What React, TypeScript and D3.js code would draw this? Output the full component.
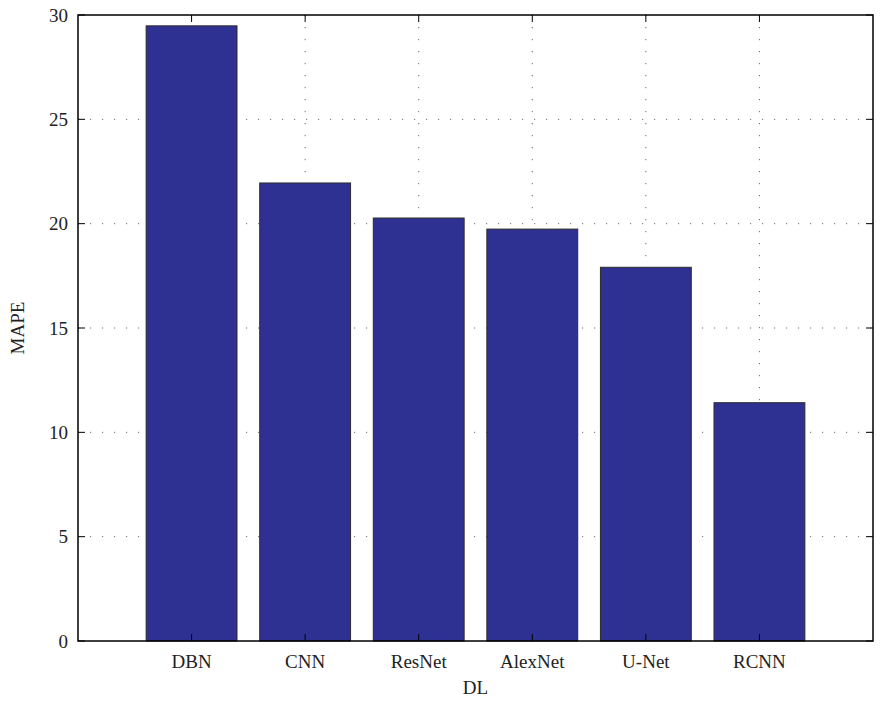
import React from "react";
import * as d3 from "d3";

// MAPE per deep-learning model
const models = ["DBN", "CNN", "ResNet", "AlexNet", "U-Net", "RCNN"];
const mape = [29.48, 21.95, 20.27, 19.74, 17.91, 11.42];
const yTicks = [0, 5, 10, 15, 20, 25, 30];

const W = 880;
const H = 703;
const M = { left: 78, right: 7, top: 15, bottom: 62 };
const FONT = "'Liberation Serif', 'Times New Roman', serif";
const FS = 19;

export default function App() {
  const plotR = W - M.right;
  const plotB = H - M.bottom;

  // categories sit at 1..n on a linear axis running from 0 to n+1
  const x = d3.scaleLinear().domain([0, models.length + 1]).range([M.left, plotR]);
  const y = d3.scaleLinear().domain([0, 30]).range([plotB, M.top]);
  const barW = (x(1) - x(0)) * 0.8;
  const tickLen = 7;
  const gridStyle = { stroke: "#707070", strokeWidth: 1, strokeDasharray: "1.2,10.8" };

  return (
    <svg
      width={W}
      height={H}
      style={{ position: "absolute", left: 0, top: 0, background: "#fff" }}
      fontFamily={FONT}
    >
      {/* grid */}
      {yTicks.slice(1, -1).map((t) => (
        <line key={"gy" + t} x1={M.left} x2={plotR} y1={y(t)} y2={y(t)} {...gridStyle} />
      ))}
      {models.map((_, i) => (
        <line key={"gx" + i} x1={x(i + 1)} x2={x(i + 1)} y1={M.top} y2={plotB} {...gridStyle} />
      ))}

      {/* bars */}
      {models.map((m, i) => (
        <rect
          key={m}
          x={x(i + 1) - barW / 2}
          y={y(mape[i])}
          width={barW}
          height={plotB - y(mape[i])}
          fill="#2E3192"
          stroke="#2a2a2a"
          strokeWidth={1}
        />
      ))}

      {/* ticks on all four sides */}
      {yTicks.map((t) => (
        <g key={"ty" + t}>
          <line x1={M.left} x2={M.left + tickLen} y1={y(t)} y2={y(t)} stroke="#000" />
          <line x1={plotR} x2={plotR - tickLen} y1={y(t)} y2={y(t)} stroke="#000" />
          <text
            x={M.left - 10}
            y={y(t)}
            textAnchor="end"
            dominantBaseline="central"
            fontSize={FS}
            fill="#222"
          >
            {t}
          </text>
        </g>
      ))}
      {models.map((m, i) => (
        <g key={"tx" + m}>
          <line x1={x(i + 1)} x2={x(i + 1)} y1={plotB} y2={plotB - tickLen} stroke="#000" />
          <line x1={x(i + 1)} x2={x(i + 1)} y1={M.top} y2={M.top + tickLen} stroke="#000" />
          <text x={x(i + 1)} y={plotB + 27} textAnchor="middle" fontSize={FS} fill="#222">
            {m}
          </text>
        </g>
      ))}

      {/* frame */}
      <rect
        x={M.left}
        y={M.top}
        width={plotR - M.left}
        height={plotB - M.top}
        fill="none"
        stroke="#000"
        strokeWidth={1.5}
      />

      {/* axis titles */}
      <text x={(M.left + plotR) / 2} y={H - 9} textAnchor="middle" fontSize={FS} fill="#222">
        DL
      </text>
      <text
        transform={`translate(24,${(M.top + plotB) / 2}) rotate(-90)`}
        textAnchor="middle"
        fontSize={FS}
        fill="#222"
      >
        MAPE
      </text>
    </svg>
  );
}
